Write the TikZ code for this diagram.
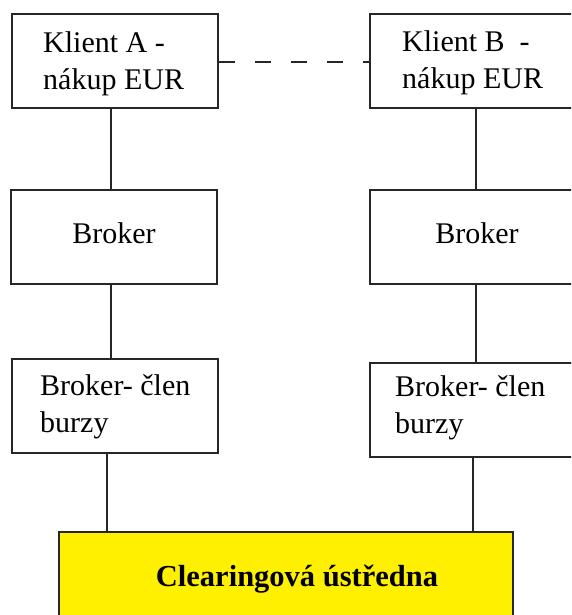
\documentclass[tikz,border=0pt]{standalone}
\usepackage{fontspec}
\setmainfont{Liberation Serif}
\definecolor{clearyellow}{RGB}{255,240,0}
\begin{document}
\begin{tikzpicture}[x=1pt,y=-1pt,
  box/.style={draw=black!85, line width=1.6pt, minimum width=206pt, minimum height=94pt, anchor=north west, inner sep=0pt},
  txt/.style={font=\fontsize{30}{36}\selectfont, inner sep=0pt, anchor=base west},
  link/.style={draw=black!85, line width=1.6pt},
  dashlink/.style={draw=black!85, line width=1.6pt, dash pattern=on 16pt off 20pt}]
\useasboundingbox (0,0) rectangle (571,615);
\clip (0,0) rectangle (571,615);
% boxes
\node[box] (kA) at (11,13) {};
\node[box] (kB) at (369,13) {};
\node[box] (bA) at (10,189) {};
\node[box] (bB) at (369,189) {};
\node[box] (cA) at (11,358) {};
\node[box] (cB) at (369,362) {};
\node[draw=black!85, line width=1.6pt, fill=clearyellow, minimum width=454pt, minimum height=100pt, anchor=north west, inner sep=0pt] (cl) at (58,531) {};
% texts
\node[txt] (tA1) at (43,53) {Klient A -};
\node[txt] (tA2) at (43,90) {nákup EUR};
\node[txt] (tB1) at (402,52) {Klient B \ -};
\node[txt] (tB2) at (402,89) {nákup EUR};
\node[txt, anchor=base] (tbA) at (114,243) {Broker};
\node[txt, anchor=base] (tbB) at (477,243) {Broker};
\node[txt] (tcA1) at (40,395) {Broker- člen};
\node[txt] (tcA2) at (40,432) {burzy};
\node[txt] (tcB1) at (395,396) {Broker- člen};
\node[txt] (tcB2) at (395,433) {burzy};
\node[font=\fontsize{30.5}{36}\selectfont\bfseries, inner sep=0pt, anchor=base] (tcl) at (297,586) {Clearingová ústředna};
% connectors
\coordinate (xA) at (111,0);
\coordinate (xB) at (476,0);
\coordinate (xA2) at (107,0);
\coordinate (xB2) at (473,0);
\draw[link] (kA.south -| xA) -- (bA.north -| xA);
\draw[link] (bA.south -| xA) -- (cA.north -| xA);
\draw[link] (cA.south -| xA2) -- (cl.north -| xA2);
\draw[link] (kB.south -| xB) -- (bB.north -| xB);
\draw[link] (bB.south -| xB) -- (cB.north -| xB);
\draw[link] (cB.south -| xB2) -- (cl.north -| xB2);
\draw[dashlink] (kA.east |- 0,62) -- (kB.west |- 0,62);
\end{tikzpicture}
\end{document}
